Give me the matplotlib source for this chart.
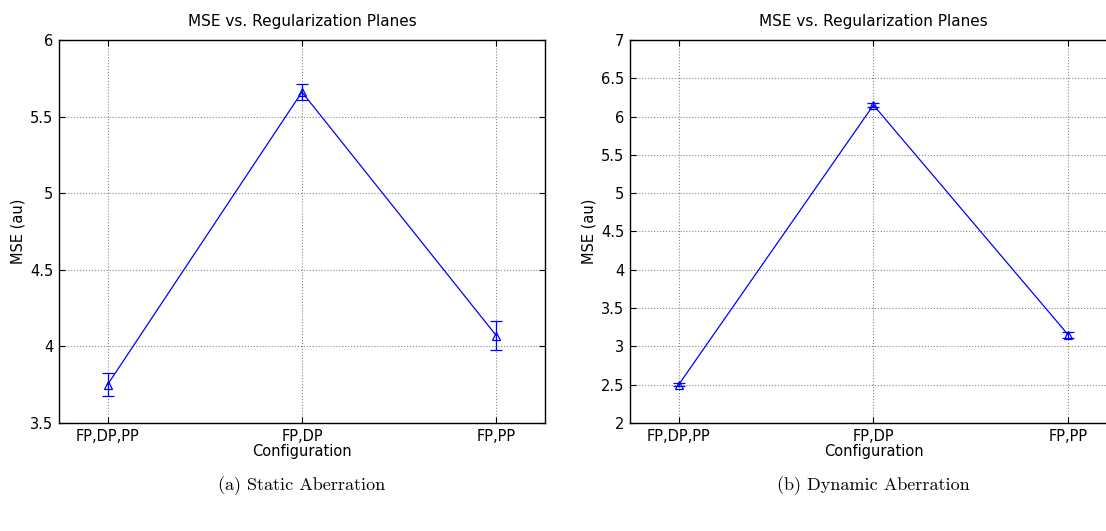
import numpy as np
import matplotlib
matplotlib.use('Agg')
import matplotlib.pyplot as plt

# data
configs = ['FP,DP,PP', 'FP,DP', 'FP,PP']
static_mse = [3.75, 5.66, 4.07]
static_err = [0.075, 0.05, 0.095]
dynamic_mse = [2.50, 6.15, 3.15]
dynamic_err = [0.02, 0.03, 0.04]

static_yticks = [3.5, 4, 4.5, 5, 5.5, 6]
dynamic_yticks = [2, 2.5, 3, 3.5, 4, 4.5, 5, 5.5, 6, 6.5, 7]

plt.rcParams['font.family'] = ['DejaVu Sans']
plt.rcParams['font.size'] = 10.5

fig = plt.figure(figsize=(11.06, 5.31), dpi=100)
ax1 = fig.add_axes([0.0533, 0.2034, 0.4394, 0.7213])
ax2 = fig.add_axes([0.5696, 0.2034, 0.4403, 0.7213])


def draw_panel(ax, values, errs, yticks, caption, cx):
    x = np.arange(1, len(configs) + 1)
    ax.errorbar(x, values, yerr=errs, color='#0000ff', linewidth=0.9,
                marker='^', markersize=6, markerfacecolor='none',
                markeredgecolor='#0000ff', markeredgewidth=0.9,
                capsize=4, elinewidth=0.9, capthick=0.9)
    ax.set_xlim(0.75, len(configs) + 0.25)
    ax.set_ylim(yticks[0], yticks[-1])
    ax.set_xticks(x)
    ax.set_xticklabels(configs)
    ax.set_yticks(yticks)
    ax.set_yticklabels([f'{t:g}' for t in yticks])
    ax.grid(True, linestyle=':', color='#888888', linewidth=0.8)
    ax.tick_params(direction='in', top=True, right=True, length=4,
                   labelsize=10.5, pad=4)
    for sp in ax.spines.values():
        sp.set_linewidth(1.0)
    ax.set_title('MSE vs. Regularization Planes', fontsize=11, pad=10)
    ax.set_xlabel('Configuration', fontsize=10.5, labelpad=0)
    ax.set_ylabel('MSE (au)', fontsize=10.5, labelpad=3)
    fig.text(cx, 0.085, caption, ha='center', va='center',
             fontsize=13, family='cmr10')


draw_panel(ax1, static_mse, static_err, static_yticks,
           '(a) Static Aberration', 302 / 1106)
draw_panel(ax2, dynamic_mse, dynamic_err, dynamic_yticks,
           '(b) Dynamic Aberration', 873 / 1106)

fig.savefig('out.png', dpi=100)
